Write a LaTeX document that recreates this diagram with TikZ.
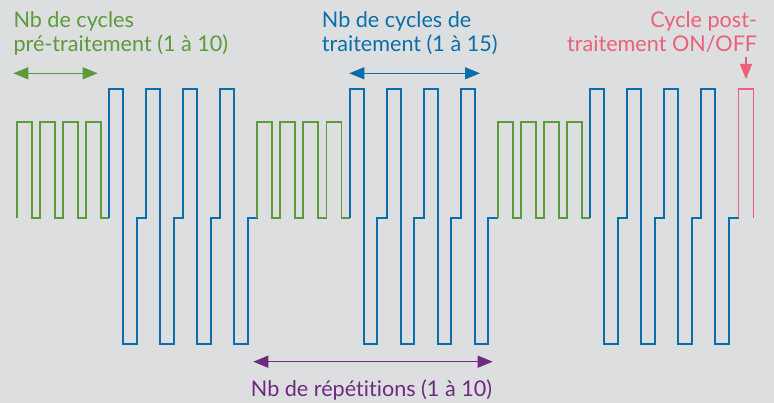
\documentclass[tikz,border=0pt]{standalone}
\usepackage{fontspec}
\setmainfont{Lato}[Ligatures=NoCommon]
\usepackage{xcolor}
\usetikzlibrary{arrows.meta,positioning,calc}

\definecolor{pregreen}{HTML}{5B9B3C}
\definecolor{traitblue}{HTML}{0A6EAA}
\definecolor{postred}{HTML}{EC6079}
\definecolor{reppurple}{HTML}{6E2A7E}
\definecolor{bggray}{HTML}{DCDEE0}

\tikzset{
  wave/.style={line width=1.9pt, miter limit=10},
  dimarrow/.style={line width=1.2pt, {Triangle[length=15pt,width=12pt]}-{Triangle[length=15pt,width=12pt]}},
  lbl/.style={inner sep=0pt, font=\fontsize{21.6}{24}\selectfont}
}

\begin{document}
\begin{tikzpicture}[x=1pt,y=-1pt]
    % Background
    \fill[bggray] (0,0) rectangle (774,403);
    \useasboundingbox (0,0) rectangle (774,403);

    % Signal (3 repetitions)
    \foreach \g in {0,1,2} {
        \pgfmathsetmacro{\xa}{16.7+240.5*\g}
        \pgfmathsetmacro{\xb}{\xa+92.4}
        % pre-treatment pulses
        \draw[wave, pregreen] (\xa,218) \foreach \i in {0,...,3} {
            -- ++(0,-96) -- ++(15,0) -- ++(0,96) -- ++(8.1,0)};
        % treatment pulses
        \draw[wave, traitblue] (\xb,218) \foreach \j in {0,...,3} {
            -- ++(0,-129) -- ++(14,0) -- ++(0,255) -- ++(13.5,0) -- ++(0,-126) -- ++(9.6,0)};
    }

    % Post-treatment pulse
    \draw[wave, postred] (738.5,218) -- ++(0,-129) -- ++(15,0) -- ++(0,129);

    % Labels
    \node[lbl, text=pregreen, anchor=north west, align=left] (pretxt) at (13.3,11) {Nb de cycles\\pré-traitement (1 à 10)};
    \node[lbl, text=traitblue, anchor=north west, align=left] (traittxt) at (321.7,11) {Nb de cycles de\\traitement (1 à 15)};
    \node[lbl, text=postred, anchor=north east, align=right] (posttxt) at (757.3,11) {Cycle post-\\traitement ON/OFF};
    \node[lbl, text=reppurple, anchor=base west] (reptxt) at (250.7,396) {Nb de répétitions (1 à 10)};

    % Arrows
    \coordinate (preL) at (13.3,73.3);
    \coordinate (preR) at (97.7,73.3);
    \coordinate (traitL) at (349.3,73.3);
    \coordinate (traitR) at (480,73.3);
    \coordinate (repL) at (253.3,361.7);
    \coordinate (repR) at (492.7,361.7);
    \coordinate (postA) at (746,57);
    \coordinate (postB) at (746,79);
    \draw[dimarrow, pregreen] (preL) -- (preR);
    \draw[dimarrow, traitblue] (traitL) -- (traitR);
    \draw[dimarrow, reppurple] (repL) -- (repR);
    \draw[line width=1.2pt, postred, -{Triangle[length=15pt,width=12pt]}] (postA) -- (postB);
\end{tikzpicture}
\end{document}
